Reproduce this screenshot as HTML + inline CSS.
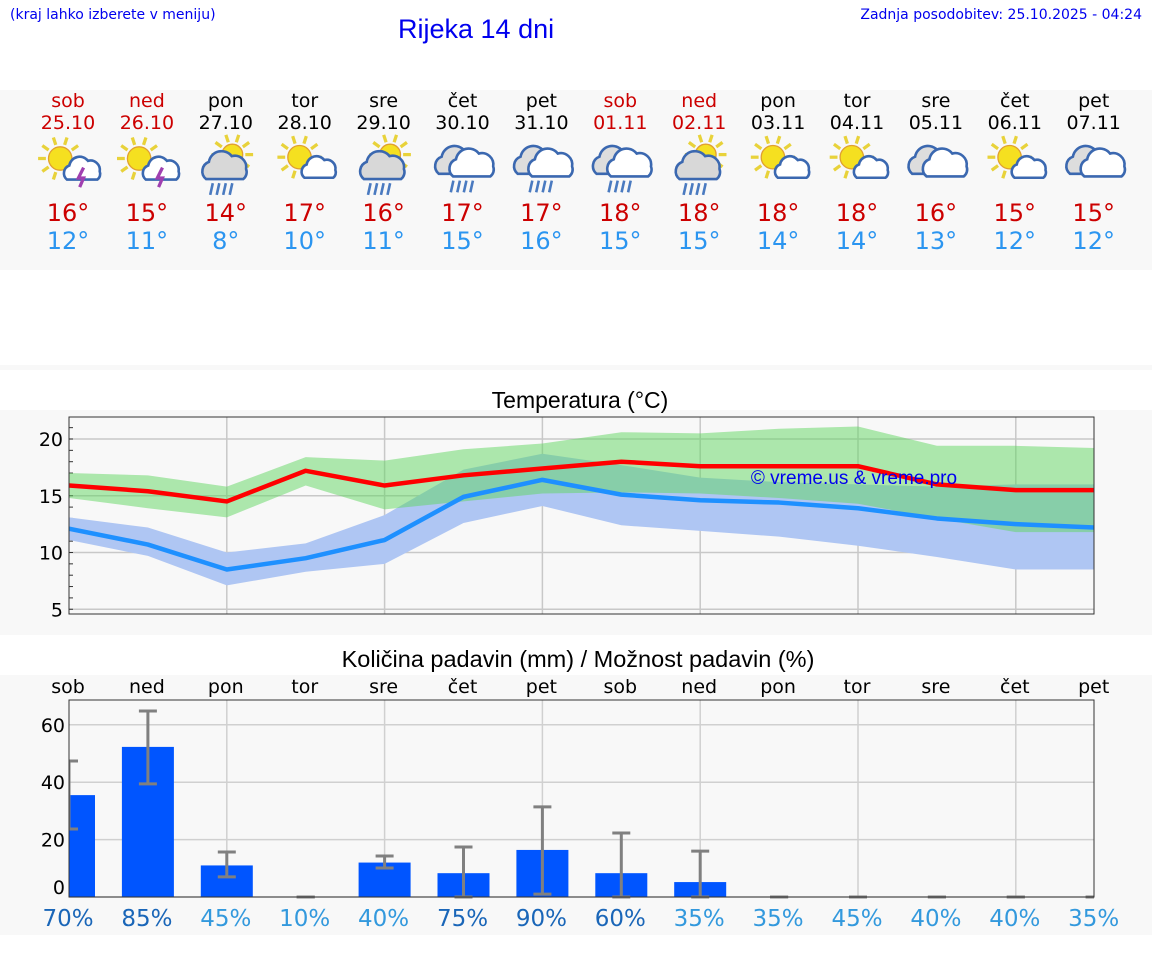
<!DOCTYPE html>
<html><head><meta charset="utf-8">
<style>
body{margin:0;width:1152px;height:975px;background:#fff;font-family:"DejaVu Sans","Liberation Sans",sans-serif;position:relative;overflow:hidden}
.abs{position:absolute}
</style></head>
<body>
<div class="abs" style="left:10px;top:7px;font-size:14px;color:#0000ee">(kraj lahko izberete v meniju)</div>
<div class="abs" style="left:398px;top:14px;font-size:27px;color:#0000ee;font-family:'Liberation Sans',sans-serif">Rijeka 14 dni</div>
<div class="abs" style="right:10px;top:7px;font-size:14px;color:#0000ee">Zadnja posodobitev: 25.10.2025 - 04:24</div>
<div class="abs" style="left:0;top:90px;width:1152px;height:180px;background:#f8f8f8"></div>
<div class="abs" style="left:0;top:365px;width:1152px;height:5px;background:#f8f8f8"></div>
<div class="abs" style="left:0;top:410px;width:1152px;height:225px;background:#f8f8f8"></div>
<div class="abs" style="left:0;top:675px;width:1152px;height:260px;background:#f8f8f8"></div>
<svg id="svg" class="abs" style="left:0;top:0" width="1152" height="975"></svg>
<script>
const days=["sob","ned","pon","tor","sre","čet","pet","sob","ned","pon","tor","sre","čet","pet"];
const dates=["25.10","26.10","27.10","28.10","29.10","30.10","31.10","01.11","02.11","03.11","04.11","05.11","06.11","07.11"];
const weekend=[1,1,0,0,0,0,0,1,1,0,0,0,0,0];
const icons=["storm","storm","sunrain","suncloud","sunrain","rain","rain","rain","sunrain","suncloud","suncloud","clouds","suncloud","clouds"];
const highs=[16,15,14,17,16,17,17,18,18,18,18,16,15,15];
const lows=[12,11,8,10,11,15,16,15,15,14,14,13,12,12];
const tMax=[15.9,15.4,14.5,17.2,15.9,16.8,17.4,18.0,17.6,17.6,17.6,16.0,15.5,15.5];
const tMaxHi=[17.0,16.8,15.8,18.4,18.1,19.1,19.6,20.6,20.5,20.9,21.1,19.4,19.4,19.2];
const tMaxLo=[14.8,13.9,13.1,15.9,13.8,14.5,15.2,15.3,15.2,14.8,14.3,13.0,11.8,11.8];
const tMin=[12.1,10.7,8.5,9.5,11.1,14.9,16.4,15.1,14.6,14.4,13.9,13.0,12.5,12.2];
const tMinHi=[13.1,12.2,10.0,10.8,13.3,17.3,18.7,17.7,16.6,16.2,16.0,15.8,16.0,16.0];
const tMinLo=[11.1,9.7,7.1,8.3,9.0,12.6,14.1,12.4,11.9,11.4,10.6,9.6,8.5,8.5];
const tTicks=[5,10,15,20];
const rain=[35.5,52.3,11,0,12,8.3,16.4,8.3,5.2,0,0,0,0,0];
const rainHi=[47.4,64.8,15.7,0,14.3,17.4,31.4,22.3,16,0,0,0,0,0];
const rainLo=[23.7,39.4,7,0,10.1,0,1,0,0,0,0,0,0,0];
const chance=[70,85,45,10,40,75,90,60,35,35,45,40,40,35];
const rTicks=[0,20,40,60];

const S=document.getElementById('svg');const NS="http://www.w3.org/2000/svg";
function el(t,a,p){const e=document.createElementNS(NS,t);for(const k in a)e.setAttribute(k,a[k]);(p||S).appendChild(e);return e;}
function txt(x,y,s,a){const e=el('text',Object.assign({x:x,y:y,'text-anchor':'middle','font-family':'DejaVu Sans, Liberation Sans, sans-serif'},a));e.textContent=s;return e;}
const X=i=>69+i*78.9;
const L=69,R=1094;
const TT=417,TB=614;const yT=v=>439+(20-v)*11.35;
const RT=700,RB=897;const yR=v=>RB-v*2.87;

days.forEach((d,i)=>{const c=weekend[i]?'#cc0000':'#000';
 let e=txt(X(i)-1,107,d,{'font-size':19,fill:c});
 
 
 e=txt(X(i)-1,129,dates[i],{'font-size':19,fill:c});
 
 
 e=txt(X(i)-1,221,highs[i]+'°',{'font-size':24,fill:'#cc0000'});
 
 
 e=txt(X(i)-1,249,lows[i]+'°',{'font-size':24,fill:'#2b95f0'});
 
 
 const g=el('g',{transform:'translate('+(X(i)-1)+',165) scale(1.3)'});
 
 
 drawIcon(g,icons[i]);
});
function sun(g,x,y,r){for(let k=0;k<10;k++){const a=k*Math.PI/5;el('line',{x1:x+Math.cos(a)*(r+2),y1:y+Math.sin(a)*(r+2),x2:x+Math.cos(a)*(r+8),y2:y+Math.sin(a)*(r+8),stroke:'#e8d23a','stroke-width':2.5},g);}
 el('circle',{cx:x,cy:y,r:r,fill:'#f5e020',stroke:'#e0a030','stroke-width':1},g);}
function cloud(g,x,y,s,fill){el('path',{d:`M${x-12*s},${y+8*s} a7 7 0 0 1 2,-12 a9 9 0 0 1 16,-4 a8 8 0 0 1 10,9 a6 6 0 0 1 -2,7 z`.replace(/a(\S+) (\S+) 0 0 1 (\S+),(\S+)/g,(m,a,b,c,d)=>`a${a*s} ${b*s} 0 0 1 ${c*s},${d*s}`),fill:fill,stroke:'#3b68b0','stroke-width':2},g);}
function drops(g,x,y,n){for(let k=0;k<n;k++)el('line',{x1:x+k*5,y1:y,x2:x+k*5-2,y2:y+9,stroke:'#4a7ac0','stroke-width':2},g);}
function drawIcon(g,t){
 if(t=='storm'){sun(g,-6,-5,9);cloud(g,10,4,0.9,'#fff');el('path',{d:'M12,2 l-4,8 h4 l-3,7',stroke:'#a040b0','stroke-width':2.5,fill:'none'},g);}
 else if(t=='sunrain'){sun(g,5,-8,8);cloud(g,-2,2,1.1,'#d8d8d8');drops(g,-10,14,4);}
 else if(t=='suncloud'){sun(g,-4,-6,9);cloud(g,10,3,0.85,'#fff');}
 else if(t=='rain'){cloud(g,-5,-2,1.1,'#ddd');cloud(g,6,0,1.1,'#fff');drops(g,-7,12,4);}
 else {cloud(g,-5,-2,1.1,'#ddd');cloud(g,6,0,1.1,'#fff');}
}

let e=txt(580,408,'Temperatura (°C)',{'font-size':23,fill:'#000','font-family':'Liberation Sans, sans-serif'});


el('rect',{x:L,y:TT,width:R-L,height:TB-TT,fill:'#f8f8f8'});
tTicks.forEach(v=>{el('line',{x1:L,x2:R,y1:yT(v),y2:yT(v),stroke:'#c8c8c8','stroke-width':1.5});
 const t=txt(L-6,yT(v)+7,String(v),{'font-size':19,'text-anchor':'end'});
 
 });
for(let v=5;v<=21;v++)el('line',{x1:L,x2:L+4,y1:yT(v),y2:yT(v),stroke:'#333'});
for(let i=2;i<14;i+=2)el('line',{x1:X(i),x2:X(i),y1:TT,y2:TB,stroke:'#c8c8c8','stroke-width':1.5});
const clipT=el('clipPath',{id:'ct'});el('rect',{x:L,y:TT,width:R-L,height:TB-TT},clipT);
const gT=el('g',{'clip-path':'url(#ct)'});
function band(hi,lo,fill,name){const p=hi.map((v,i)=>X(i)+','+yT(v)).concat(lo.map((v,i)=>X(i)+','+yT(v)).reverse());
 const b=el('polygon',{points:p.join(' '),fill:fill},gT);}
band(tMinHi,tMinLo,'#afc6f3','min-temp-range');
band(tMaxHi,tMaxLo,'rgba(96,214,96,0.5)','max-temp-range');
function line(v,c,name){const l=el('polyline',{points:v.map((t,i)=>X(i)+','+yT(t)).join(' '),fill:'none',stroke:c,'stroke-width':4.5,'stroke-linejoin':'round'},gT);}
line(tMin,'#1e90ff','min-temp-line');
line(tMax,'#ff0000','max-temp-line');
el('rect',{x:L,y:TT,width:R-L,height:TB-TT,fill:'none',stroke:'#333','stroke-width':1});
e=txt(854,484,'© vreme.us & vreme.pro',{'font-size':19,fill:'#0000ee','font-family':'Liberation Sans, sans-serif'});



e=txt(578,667,'Količina padavin (mm) / Možnost padavin (%)',{'font-size':23.5,'font-family':'Liberation Sans, sans-serif'});


days.forEach((d,i)=>{const t=txt(X(i)-1,693,d,{'font-size':19});
 
 });
el('rect',{x:L,y:RT,width:R-L,height:RB-RT,fill:'#f8f8f8'});
rTicks.forEach(v=>{el('line',{x1:L,x2:R,y1:yR(v),y2:yR(v),stroke:'#d0d0d0','stroke-width':1.5});
 const t=txt(L-4,yR(v)+(v==0?-3:7),String(v),{'font-size':19,'text-anchor':'end'});
 
 });
for(let i=2;i<14;i+=2)el('line',{x1:X(i),x2:X(i),y1:RT,y2:RB,stroke:'#d0d0d0','stroke-width':1.5});
const clipR=el('clipPath',{id:'cr'});el('rect',{x:L,y:RT,width:R-L,height:RB-RT+2},clipR);
const gR=el('g',{'clip-path':'url(#cr)'});
rain.forEach((v,i)=>{if(v>0){const b=el('rect',{x:X(i)-26,y:yR(v),width:52,height:RB-yR(v),fill:'#0055ff'},gR);
 
 }
 const g=el('g',{stroke:'#808080','stroke-width':3},gR);
 
 
 el('line',{x1:X(i),x2:X(i),y1:yR(rainHi[i]),y2:yR(rainLo[i])},g);
 el('line',{x1:X(i)-9,x2:X(i)+9,y1:yR(rainHi[i]),y2:yR(rainHi[i])},g);
 el('line',{x1:X(i)-9,x2:X(i)+9,y1:yR(rainLo[i]),y2:yR(rainLo[i])},g);
});
el('rect',{x:L,y:RT,width:R-L,height:RB-RT,fill:'none',stroke:'#333','stroke-width':1});
chance.forEach((v,i)=>{const t=txt(X(i)-1,926,v+'%',{'font-size':23,fill:v>=60?'#1a66b8':'#3399dd'});
 
 });
</script>
</body></html>
